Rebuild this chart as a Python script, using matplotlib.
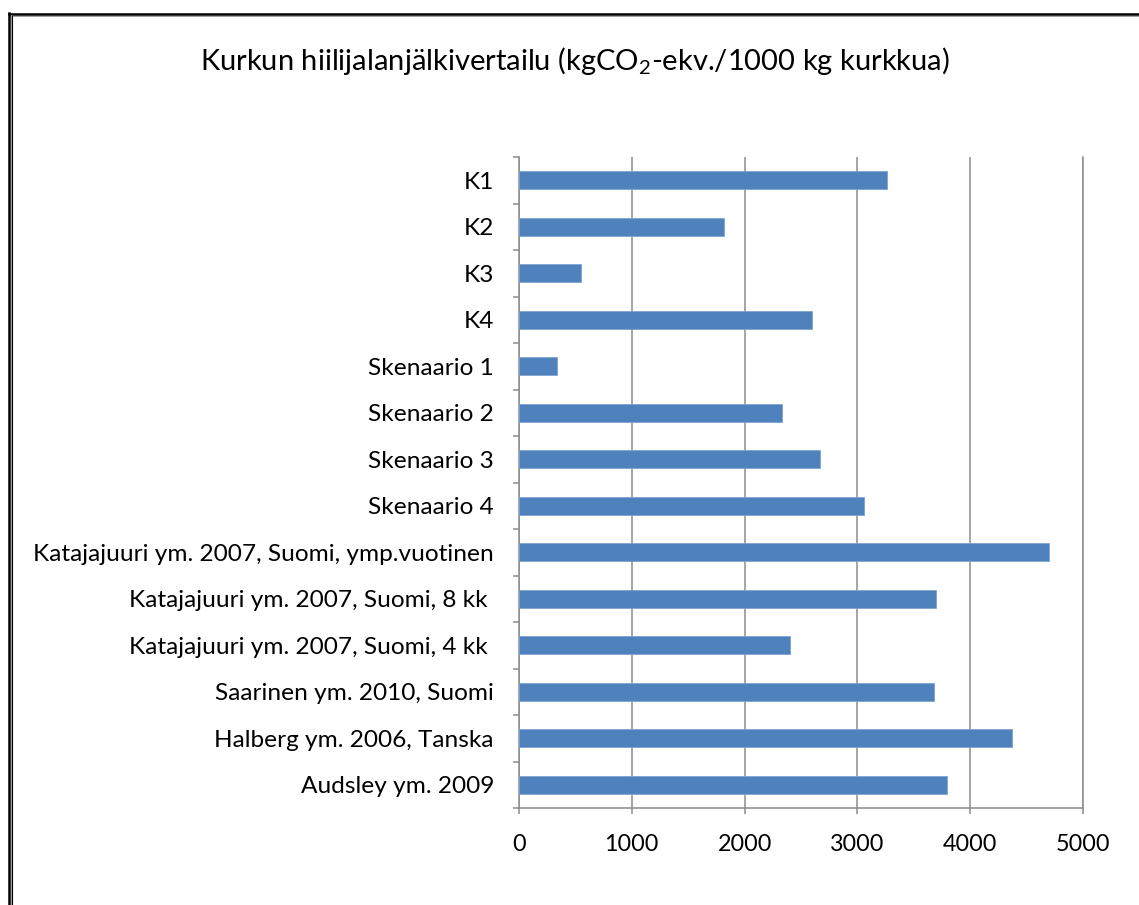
import matplotlib
matplotlib.use('Agg')
import matplotlib.pyplot as plt
from matplotlib.lines import Line2D
import numpy as np

plt.rcParams['font.family'] = ['Lato', 'DejaVu Sans']
plt.rcParams['mathtext.fontset'] = 'custom'
plt.rcParams['mathtext.rm'] = 'Lato'

categories = [
    'K1', 'K2', 'K3', 'K4',
    'Skenaario 1', 'Skenaario 2', 'Skenaario 3', 'Skenaario 4',
    'Katajajuuri ym. 2007, Suomi, ymp.vuotinen',
    'Katajajuuri ym. 2007, Suomi, 8 kk ',
    'Katajajuuri ym. 2007, Suomi, 4 kk ',
    'Saarinen ym. 2010, Suomi',
    'Halberg ym. 2006, Tanska',
    'Audsley ym. 2009',
]
values = [3260, 1815, 550, 2600, 335, 2335, 2670, 3060,
          4700, 3700, 2400, 3680, 4370, 3790]
x_ticks = [0, 1000, 2000, 3000, 4000, 5000]

TITLE = 'Kurkun hiilijalanjälkivertailu (kgCO$_\\mathrm{2}$-ekv./1000 kg kurkkua)'
BAR_COLOR = '#4F81BD'
GRID_COLOR = '#8C8C8C'

W, H = 1139, 905
fig = plt.figure(figsize=(W / 100, H / 100), dpi=100)
ax = fig.add_axes([519 / W, 1 - 808 / H, (1083 - 519) / W, (808 - 157) / H])

y = np.arange(len(categories))
ax.barh(y, values, height=0.38, color=BAR_COLOR, edgecolor='#7FA3D3',
        linewidth=0.6, zorder=3)

ax.set_xlim(0, 5000)
ax.set_ylim(len(categories) - 0.5, -0.5)
ax.set_xticks(x_ticks)
ax.set_xticklabels([str(t) for t in x_ticks])
ax.set_yticks(y)
ax.set_yticklabels(categories)
ax.set_yticks(np.arange(-0.5, len(categories)), minor=True)

ax.xaxis.grid(True, color=GRID_COLOR, linewidth=1.1, zorder=0)
ax.set_axisbelow(True)

for side in ['left', 'bottom', 'right']:
    ax.spines[side].set_color(GRID_COLOR)
    ax.spines[side].set_linewidth(1.1)
ax.spines['top'].set_visible(False)

ax.tick_params(axis='y', which='major', length=0, pad=18, labelsize=17.6,
               colors='black')
ax.tick_params(axis='y', which='minor', length=4.5, width=1.1,
               color=GRID_COLOR, direction='out')
ax.tick_params(axis='x', which='major', length=4, width=1.1,
               color=GRID_COLOR, direction='out', pad=15, labelsize=16.8,
               labelcolor='black')

fig.text(0.505, 1 - 61 / H, TITLE, ha='center', va='center', fontsize=21)

# page frame (thick black top/left, as in the source document)
fig.add_artist(Line2D([8.5 / W, 1], [1 - 14.5 / H, 1 - 14.5 / H],
                      color='black', linewidth=1.8, transform=fig.transFigure))
fig.add_artist(Line2D([10 / W, 1], [1 - 16.5 / H, 1 - 16.5 / H],
                      color='#A0A0A0', linewidth=0.7, transform=fig.transFigure))
fig.add_artist(Line2D([8.5 / W, 8.5 / W], [0, 1 - 13.5 / H],
                      color='black', linewidth=1.8, transform=fig.transFigure))
fig.add_artist(Line2D([10.5 / W, 10.5 / W], [0, 1 - 15.5 / H],
                      color='#A0A0A0', linewidth=0.7, transform=fig.transFigure))
fig.add_artist(Line2D([12 / W, 12 / W], [0, 1 - 16 / H],
                      color='black', linewidth=0.8, transform=fig.transFigure))

fig.savefig('out.png', dpi=100)
